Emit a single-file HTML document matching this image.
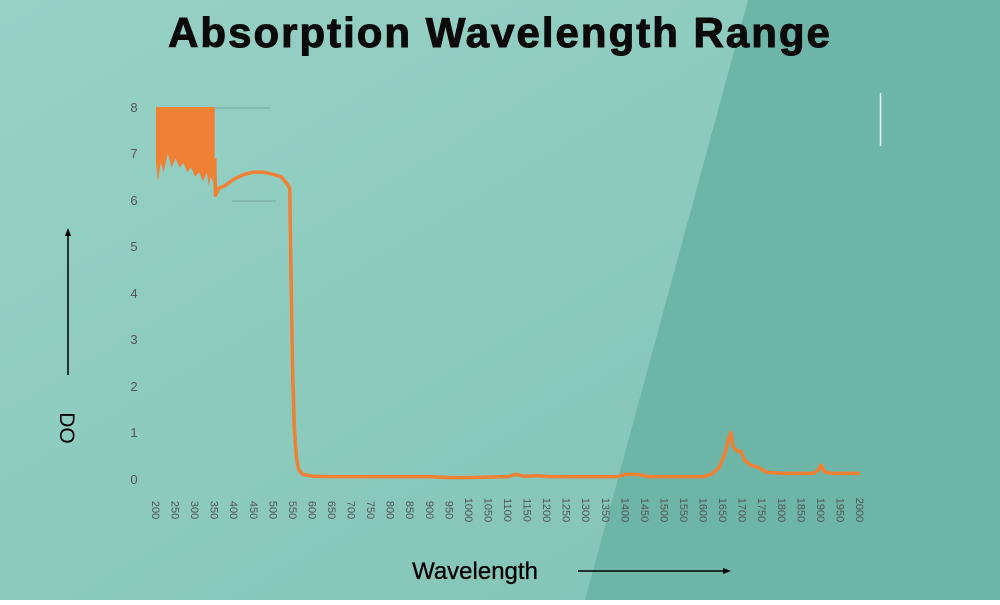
<!DOCTYPE html>
<html><head><style>
html,body{margin:0;padding:0}
body{width:1000px;height:600px;overflow:hidden;font-family:"Liberation Sans",sans-serif}
</style></head><body>
<svg width="1000" height="600" xmlns="http://www.w3.org/2000/svg">
<defs>
<linearGradient id="bg" x1="0" y1="0" x2="1" y2="1">
<stop offset="0" stop-color="#98d1c6"/><stop offset="1" stop-color="#7fc3b5"/>
</linearGradient>
</defs>
<rect width="1000" height="600" fill="url(#bg)"/>
<polygon points="748,0 1000,0 1000,600 585,600" fill="#6db6a7"/>
<text x="500" y="47" text-anchor="middle" font-size="42" font-weight="bold" fill="#0a0a0a" letter-spacing="2" stroke="#0a0a0a" stroke-width="1">Absorption Wavelength Range</text>
<line x1="156" y1="108" x2="270" y2="108" stroke="#6fa89b" stroke-width="1"/>
<line x1="232" y1="201" x2="276" y2="201" stroke="#6fa89b" stroke-width="1"/>
<line x1="880.5" y1="93" x2="880.5" y2="146" stroke="#e8f4f0" stroke-width="1.5"/>
<g font-size="13" fill="#555" text-anchor="middle">
<text x="134" y="112">8</text><text x="134" y="158">7</text><text x="134" y="205">6</text>
<text x="134" y="251">5</text><text x="134" y="298">4</text><text x="134" y="344">3</text>
<text x="134" y="391">2</text><text x="134" y="437">1</text><text x="134" y="484">0</text>
</g>
<g font-size="11" fill="#555" text-anchor="middle">
<text transform="translate(152,510) rotate(90)">200</text>
<text transform="translate(171.6,510) rotate(90)">250</text>
<text transform="translate(191.1,510) rotate(90)">300</text>
<text transform="translate(210.7,510) rotate(90)">350</text>
<text transform="translate(230.2,510) rotate(90)">400</text>
<text transform="translate(249.8,510) rotate(90)">450</text>
<text transform="translate(269.3,510) rotate(90)">500</text>
<text transform="translate(288.9,510) rotate(90)">550</text>
<text transform="translate(308.4,510) rotate(90)">600</text>
<text transform="translate(328,510) rotate(90)">650</text>
<text transform="translate(347.6,510) rotate(90)">700</text>
<text transform="translate(367.1,510) rotate(90)">750</text>
<text transform="translate(386.7,510) rotate(90)">800</text>
<text transform="translate(406.2,510) rotate(90)">850</text>
<text transform="translate(425.8,510) rotate(90)">900</text>
<text transform="translate(445.3,510) rotate(90)">950</text>
<text transform="translate(464.9,510) rotate(90)">1000</text>
<text transform="translate(484.4,510) rotate(90)">1050</text>
<text transform="translate(504,510) rotate(90)">1100</text>
<text transform="translate(523.6,510) rotate(90)">1150</text>
<text transform="translate(543.1,510) rotate(90)">1200</text>
<text transform="translate(562.7,510) rotate(90)">1250</text>
<text transform="translate(582.2,510) rotate(90)">1300</text>
<text transform="translate(601.8,510) rotate(90)">1350</text>
<text transform="translate(621.3,510) rotate(90)">1400</text>
<text transform="translate(640.9,510) rotate(90)">1450</text>
<text transform="translate(660.4,510) rotate(90)">1500</text>
<text transform="translate(680,510) rotate(90)">1550</text>
<text transform="translate(699.6,510) rotate(90)">1600</text>
<text transform="translate(719.1,510) rotate(90)">1650</text>
<text transform="translate(738.7,510) rotate(90)">1700</text>
<text transform="translate(758.2,510) rotate(90)">1750</text>
<text transform="translate(777.8,510) rotate(90)">1800</text>
<text transform="translate(797.3,510) rotate(90)">1850</text>
<text transform="translate(816.9,510) rotate(90)">1900</text>
<text transform="translate(836.4,510) rotate(90)">1950</text>
<text transform="translate(856,510) rotate(90)">2000</text>
</g>
<g transform="translate(156,479) scale(0.39111,-46.5)">
<path d="M0,8 L150,8 L150,6.9 L145,6.4 L140,6.5 L135,6.3 L130,6.6 L120,6.4 L110,6.6 L100,6.5 L90,6.7 L80,6.6 L70,6.8 L60,6.7 L50,6.9 L40,6.7 L30,7 L20,6.6 L12,6.8 L5,6.4 L0,6.8 Z" fill="#ef8034"/>
<path d="M150,6.9 L152,6.1 L160,6.25 L175,6.3 L200,6.45 L225,6.55 L250,6.6 L275,6.6 L300,6.55 L320,6.5 L335,6.35 L342,6.25 L345,4.5 L348,3 L350,2.1 L351,1.9 L353,1.2 L356,0.8 L360,0.4 L365,0.2 L375,0.1 L400,0.06 L450,0.05 L700,0.05 L750,0.03 L800,0.03 L900,0.05 L920,0.1 L940,0.06 L980,0.07 L1000,0.05 L1180,0.05 L1200,0.1 L1230,0.1 L1260,0.05 L1400,0.05 L1420,0.1 L1440,0.25 L1455,0.55 L1465,0.9 L1470,1.0 L1475,0.7 L1485,0.6 L1495,0.6 L1505,0.4 L1520,0.3 L1540,0.25 L1560,0.15 L1600,0.12 L1680,0.12 L1695,0.2 L1700,0.3 L1710,0.15 L1730,0.12 L1800,0.12" fill="none" stroke="#ef8034" stroke-width="3.5" vector-effect="non-scaling-stroke" stroke-linejoin="round"/>
</g>
<line x1="68" y1="375" x2="68" y2="234" stroke="#000" stroke-width="1.5"/>
<polygon points="68,228 65,236 71,236" fill="#000"/>
<text transform="translate(60,428) rotate(90)" font-size="21" text-anchor="middle" fill="#000">DO</text>
<text x="475" y="579" font-size="24" text-anchor="middle" fill="#000" stroke="#000" stroke-width="0.3">Wavelength</text>
<line x1="578" y1="571" x2="724" y2="571" stroke="#000" stroke-width="1.5"/>
<polygon points="731,571 723,568 723,574" fill="#000"/>
</svg>
</body></html>
